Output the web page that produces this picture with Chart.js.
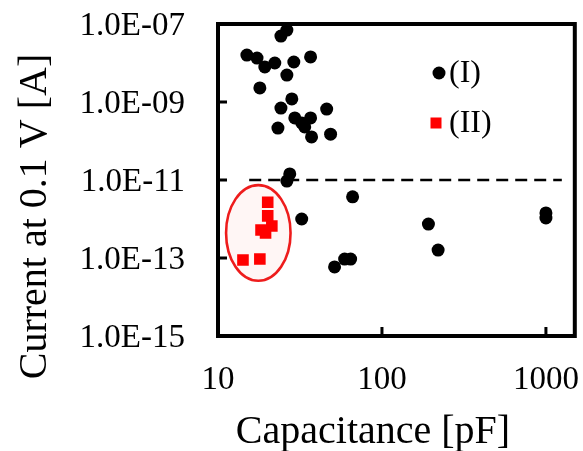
<!DOCTYPE html>
<html>
<head>
<meta charset="utf-8">
<script src="https://cdn.jsdelivr.net/npm/chart.js@4.4.1/dist/chart.umd.min.js"></script>
<style>
  html, body { margin: 0; padding: 0; background: #ffffff; }
  #wrap { width: 583px; height: 451px; }
</style>
</head>
<body>
<div id="wrap"><canvas id="c" width="583" height="451"></canvas></div>
<script>
// ---- data ----
const xTickValues = [10, 100, 1000];
const xTickLabels = ['10', '100', '1000'];
const yTickValues = [1e-15, 1e-13, 1e-11, 1e-9, 1e-7];
const yTickLabels = ['1.0E-15', '1.0E-13', '1.0E-11', '1.0E-09', '1.0E-07'];
const seriesNames = ['(I)', '(II)'];
const xAxisTitle = 'Capacitance [pF]';
const yAxisTitle = 'Current at 0.1 V [A]';

const groupICapacitance = [26.3, 24.2, 15.0, 17.3, 19.3, 22.2, 29.0, 36.7, 26.3, 18.0,
  28.2, 24.2, 46.0, 29.4, 32.4, 36.7, 33.8, 23.2, 37.2, 48.6,
  27.4, 26.3, 66.2, 32.4, 51.4, 59.2, 64.4, 192, 220, 1000, 1000];
const groupICurrent = [7.0e-8, 4.9e-8, 1.6e-8, 1.34e-8, 7.9e-9, 1.0e-8, 1.06e-8, 1.43e-8, 4.9e-9, 2.3e-9,
  1.2e-9, 7.0e-10, 6.6e-10, 3.9e-10, 2.9e-10, 3.9e-10, 2.3e-10, 2.15e-10, 1.27e-10, 1.5e-10,
  1.43e-11, 9.4e-12, 3.7e-12, 1.0e-12, 5.9e-14, 9.4e-14, 9.4e-14, 7.4e-13, 1.6e-13, 1.43e-12, 1.06e-12];

const groupIICapacitance = [20.1, 20.1, 21.3, 18.3, 19.5, 14.2, 18.0];
const groupIICurrent = [2.7e-12, 1.2e-12, 6.6e-13, 5.2e-13, 4.4e-13, 8.9e-14, 9.4e-14];

const thresholdCapacitance = [15.5, 1250];
const thresholdCurrent = [1e-11, 1e-11];

// ellipse enclosing group (II), in data units (capacitance range, current range)
const ellipseCapacitance = [11.2, 27.7];
const ellipseCurrent = [2.6e-14, 7.4e-12];

// ---- helpers ----
const zip = (xs, ys) => xs.map((x, i) => ({ x: x, y: ys[i] }));
const SERIF = '"Liberation Serif", "Times New Roman", "DejaVu Serif", serif';
const zeroPad = s => { s.paddingTop = 0; s.paddingBottom = 0; s.paddingLeft = 0; s.paddingRight = 0; };

const framePlugin = {
  id: 'frame',
  beforeDatasetsDraw(chart) {
    const { ctx, scales: { x, y } } = chart;
    const l = x.getPixelForValue(ellipseCapacitance[0]);
    const r = x.getPixelForValue(ellipseCapacitance[1]);
    const t = y.getPixelForValue(ellipseCurrent[1]);
    const b = y.getPixelForValue(ellipseCurrent[0]);
    ctx.save();
    ctx.beginPath();
    ctx.ellipse((l + r) / 2, (t + b) / 2, (r - l) / 2, (b - t) / 2, 0, 0, Math.PI * 2);
    ctx.fillStyle = 'rgba(255, 80, 60, 0.05)';
    ctx.fill();
    ctx.lineWidth = 2.6;
    ctx.strokeStyle = '#ee1c1c';
    ctx.stroke();
    ctx.restore();
  },
  afterDraw(chart) {
    const { ctx, chartArea: a, scales: { x, y } } = chart;
    ctx.save();
    // frame
    ctx.strokeStyle = '#000';
    ctx.lineWidth = 4;
    ctx.strokeRect(a.left, a.top, a.right - a.left, a.bottom - a.top);
    // inward ticks
    ctx.lineWidth = 3;
    ctx.beginPath();
    xTickValues.slice(1).forEach(v => {
      const px = x.getPixelForValue(v);
      ctx.moveTo(px, a.bottom);
      ctx.lineTo(px, a.bottom - 9);
    });
    yTickValues.slice(1, -1).forEach(v => {
      const py = y.getPixelForValue(v);
      ctx.moveTo(a.left, py);
      ctx.lineTo(a.left + 9, py);
    });
    ctx.stroke();

    // axis titles
    ctx.fillStyle = '#000';
    ctx.font = '40px ' + SERIF;
    ctx.textAlign = 'center';
    ctx.textBaseline = 'alphabetic';
    ctx.fillText(xAxisTitle, 373, 443);
    ctx.save();
    ctx.translate(46, 216.5);
    ctx.rotate(-Math.PI / 2);
    ctx.fillText(yAxisTitle, 0, 0);
    ctx.restore();

    // legend
    const ds = chart.data.datasets;
    ctx.font = '32px ' + SERIF;
    ctx.textAlign = 'left';
    ctx.textBaseline = 'middle';
    ctx.fillStyle = ds[0].backgroundColor;
    ctx.beginPath();
    ctx.arc(439, 73, 6.5, 0, Math.PI * 2);
    ctx.fill();
    ctx.fillStyle = '#000';
    ctx.fillText(seriesNames[0], 449, 74);
    ctx.fillStyle = ds[1].backgroundColor;
    ctx.fillRect(436 - 5.5, 123 - 5.5, 11, 11);
    ctx.fillStyle = '#000';
    ctx.fillText(seriesNames[1], 449, 124);
    ctx.restore();
  }
};

new Chart(document.getElementById('c'), {
  type: 'scatter',
  data: {
    datasets: [
      {
        label: seriesNames[0],
        data: zip(groupICapacitance, groupICurrent),
        pointStyle: 'circle',
        pointRadius: 6.5,
        pointHoverRadius: 6.5,
        backgroundColor: '#000000',
        borderColor: '#000000',
        borderWidth: 0
      },
      {
        label: seriesNames[1],
        data: zip(groupIICapacitance, groupIICurrent),
        pointStyle: 'rect',
        pointRadius: 8.2,
        pointHoverRadius: 8.2,
        backgroundColor: '#ff0000',
        borderColor: '#ff0000',
        borderWidth: 0
      },
      {
        label: 'threshold',
        type: 'line',
        data: zip(thresholdCapacitance, thresholdCurrent),
        borderColor: '#000000',
        borderWidth: 2.4,
        borderDash: [12, 7],
        pointRadius: 0,
        fill: false
      }
    ]
  },
  options: {
    responsive: false,
    animation: false,
    devicePixelRatio: 1,
    layout: { padding: { left: 0, right: 8, top: 24, bottom: 0 } },
    plugins: {
      legend: { display: false },
      tooltip: { enabled: false },
      title: { display: false }
    },
    scales: {
      x: {
        type: 'logarithmic',
        min: 10,
        max: 1500,
        afterBuildTicks: s => { s.ticks = xTickValues.map(v => ({ value: v })); },
        afterFit: s => { s.height = 115; zeroPad(s); },
        grid: { display: false, drawTicks: false },
        border: { display: false },
        ticks: {
          autoSkip: false,
          maxRotation: 0,
          padding: 25,
          color: '#000',
          font: { family: SERIF, size: 33 },
          callback: (v) => { const i = xTickValues.indexOf(v); return i >= 0 ? xTickLabels[i] : ''; }
        }
      },
      y: {
        type: 'logarithmic',
        min: 1e-15,
        max: 1e-7,
        afterBuildTicks: s => { s.ticks = yTickValues.map(v => ({ value: v })); },
        afterFit: s => { s.width = 218; zeroPad(s); },
        grid: { display: false, drawTicks: false },
        border: { display: false },
        ticks: {
          autoSkip: false,
          padding: 33,
          labelOffset: 2,
          color: '#000',
          font: { family: SERIF, size: 33 },
          callback: (v) => {
            const i = yTickValues.findIndex(t => Math.abs(Math.log10(t) - Math.log10(v)) < 1e-6);
            return i >= 0 ? yTickLabels[i] : '';
          }
        }
      }
    }
  },
  plugins: [framePlugin]
});
</script>
</body>
</html>
